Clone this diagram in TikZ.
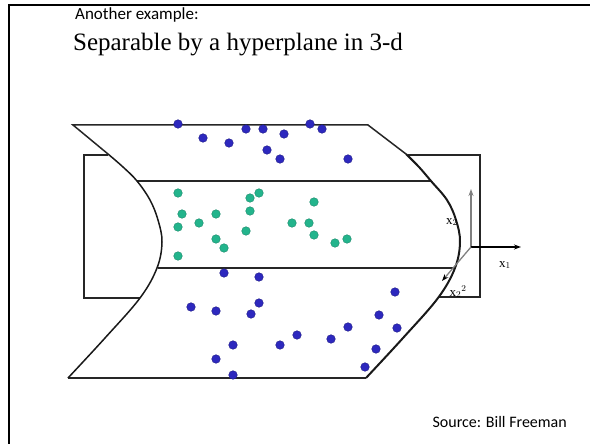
\documentclass[tikz,border=0pt]{standalone}
\usepackage{fontspec}
\setmainfont{Liberation Serif}
\newfontfamily\calib{Carlito}
\usetikzlibrary{arrows.meta}
\definecolor{dotblue}{RGB}{45,40,190}
\definecolor{dotteal}{RGB}{35,180,140}
\tikzset{
  edge/.style={line width=1.5pt, black!85},
  curve/.style={line width=1.5pt, black!90},
  bdot/.style={fill=dotblue, draw=dotblue!70!black, line width=0.4pt},
  tdot/.style={fill=dotteal, draw=dotteal!75!black, line width=0.4pt},
  lbl/.style={inner sep=0pt, font=\fontsize{13}{14}\selectfont},
}
\begin{document}
\begin{tikzpicture}[x=1pt,y=-1pt]
\useasboundingbox (0,0) rectangle (590,444);
% slide frame
\draw[line width=2pt] (9,444) -- (9,5) -- (590,5);
% texts
\node[anchor=west, inner sep=0pt, font=\calib\fontsize{17}{18}\selectfont] (ex) at (75,15) {Another example:};
\node[inner sep=0pt, font=\fontsize{25}{27}\selectfont] (title) at (238,45) {Separable by a hyperplane in 3-d};
\node[anchor=east, inner sep=0pt, font=\calib\fontsize{16}{17}\selectfont] (src) at (567,422) {Source: Bill Freeman};
% boxes behind
\draw[edge] (108,155) -- (84,155) -- (84,298) -- (140,298);
\draw[edge] (408,155) -- (480,155) -- (480,297) -- (438,297);
% top surface
\draw[edge] (108,154) -- (73,125) -- (368,125) -- (406,154);
% middle lines
\draw[edge] (137,181) -- (431,181);
\draw[edge] (158,268) -- (455,268);
% bottom line
\draw[edge] (68,378) -- (366,378);
% left curve
\draw[curve] plot[smooth, tension=0.6] coordinates {(108,154) (123,167) (137,181) (150,200) (158,220) (162,242) (157,268) (140,298) (105,338) (68,378)};
% right curve
\draw[curve, line width=2pt] plot[smooth, tension=0.6] coordinates {(406,154) (419,167) (431,181) (447,200) (456,220) (460,242) (455,268) (438,298) (403,338) (366,378)};
% axes
\coordinate (o) at (471,247);
\coordinate (ay) at (471,189);
\coordinate (ax) at (521,247);
\coordinate (az) at (442,281);
\draw[gray, line width=1.3pt, -{Stealth[length=7pt,width=5pt]}] (o) -- (ay);
\draw[black, line width=1.2pt, -{Stealth[length=7pt,width=5pt]}] (o) -- (ax);
\draw[gray, line width=1.3pt, -{Stealth[length=7pt,width=5pt,black]}] (o) -- (az);
\node[lbl] (lx2) at (452,222) {x$_2$};
\node[lbl] (lx1) at (505,265) {x$_1$};
\node[lbl] (lx22) at (458,292) {x$_2$$^2$};
% blue dots upper
\foreach \p in {(178,124),(203,138),(229,143),(246,129),(263,129),(284,134),(310,124),(322,129),(267,150),(280,159),(348,159)}
  \draw[bdot] \p circle (4.3);
% teal dots
\foreach \p in {(178,193),(182,214),(178,227),(199,223),(216,214),(216,239),(224,248),(178,256),(250,198),(259,193),(250,211),(246,231),(314,202),(292,223),(309,223),(314,235),(335,243),(347,239)}
  \draw[tdot] \p circle (4.3);
% blue dots lower
\foreach \p in {(224,273),(259,277),(191,307),(216,311),(259,303),(251,314),(233,345),(280,345),(216,359),(233,375),(297,335),(331,339),(348,327),(379,315),(395,292),(397,328),(376,349),(365,367)}
  \draw[bdot] \p circle (4.3);
\end{tikzpicture}
\end{document}
